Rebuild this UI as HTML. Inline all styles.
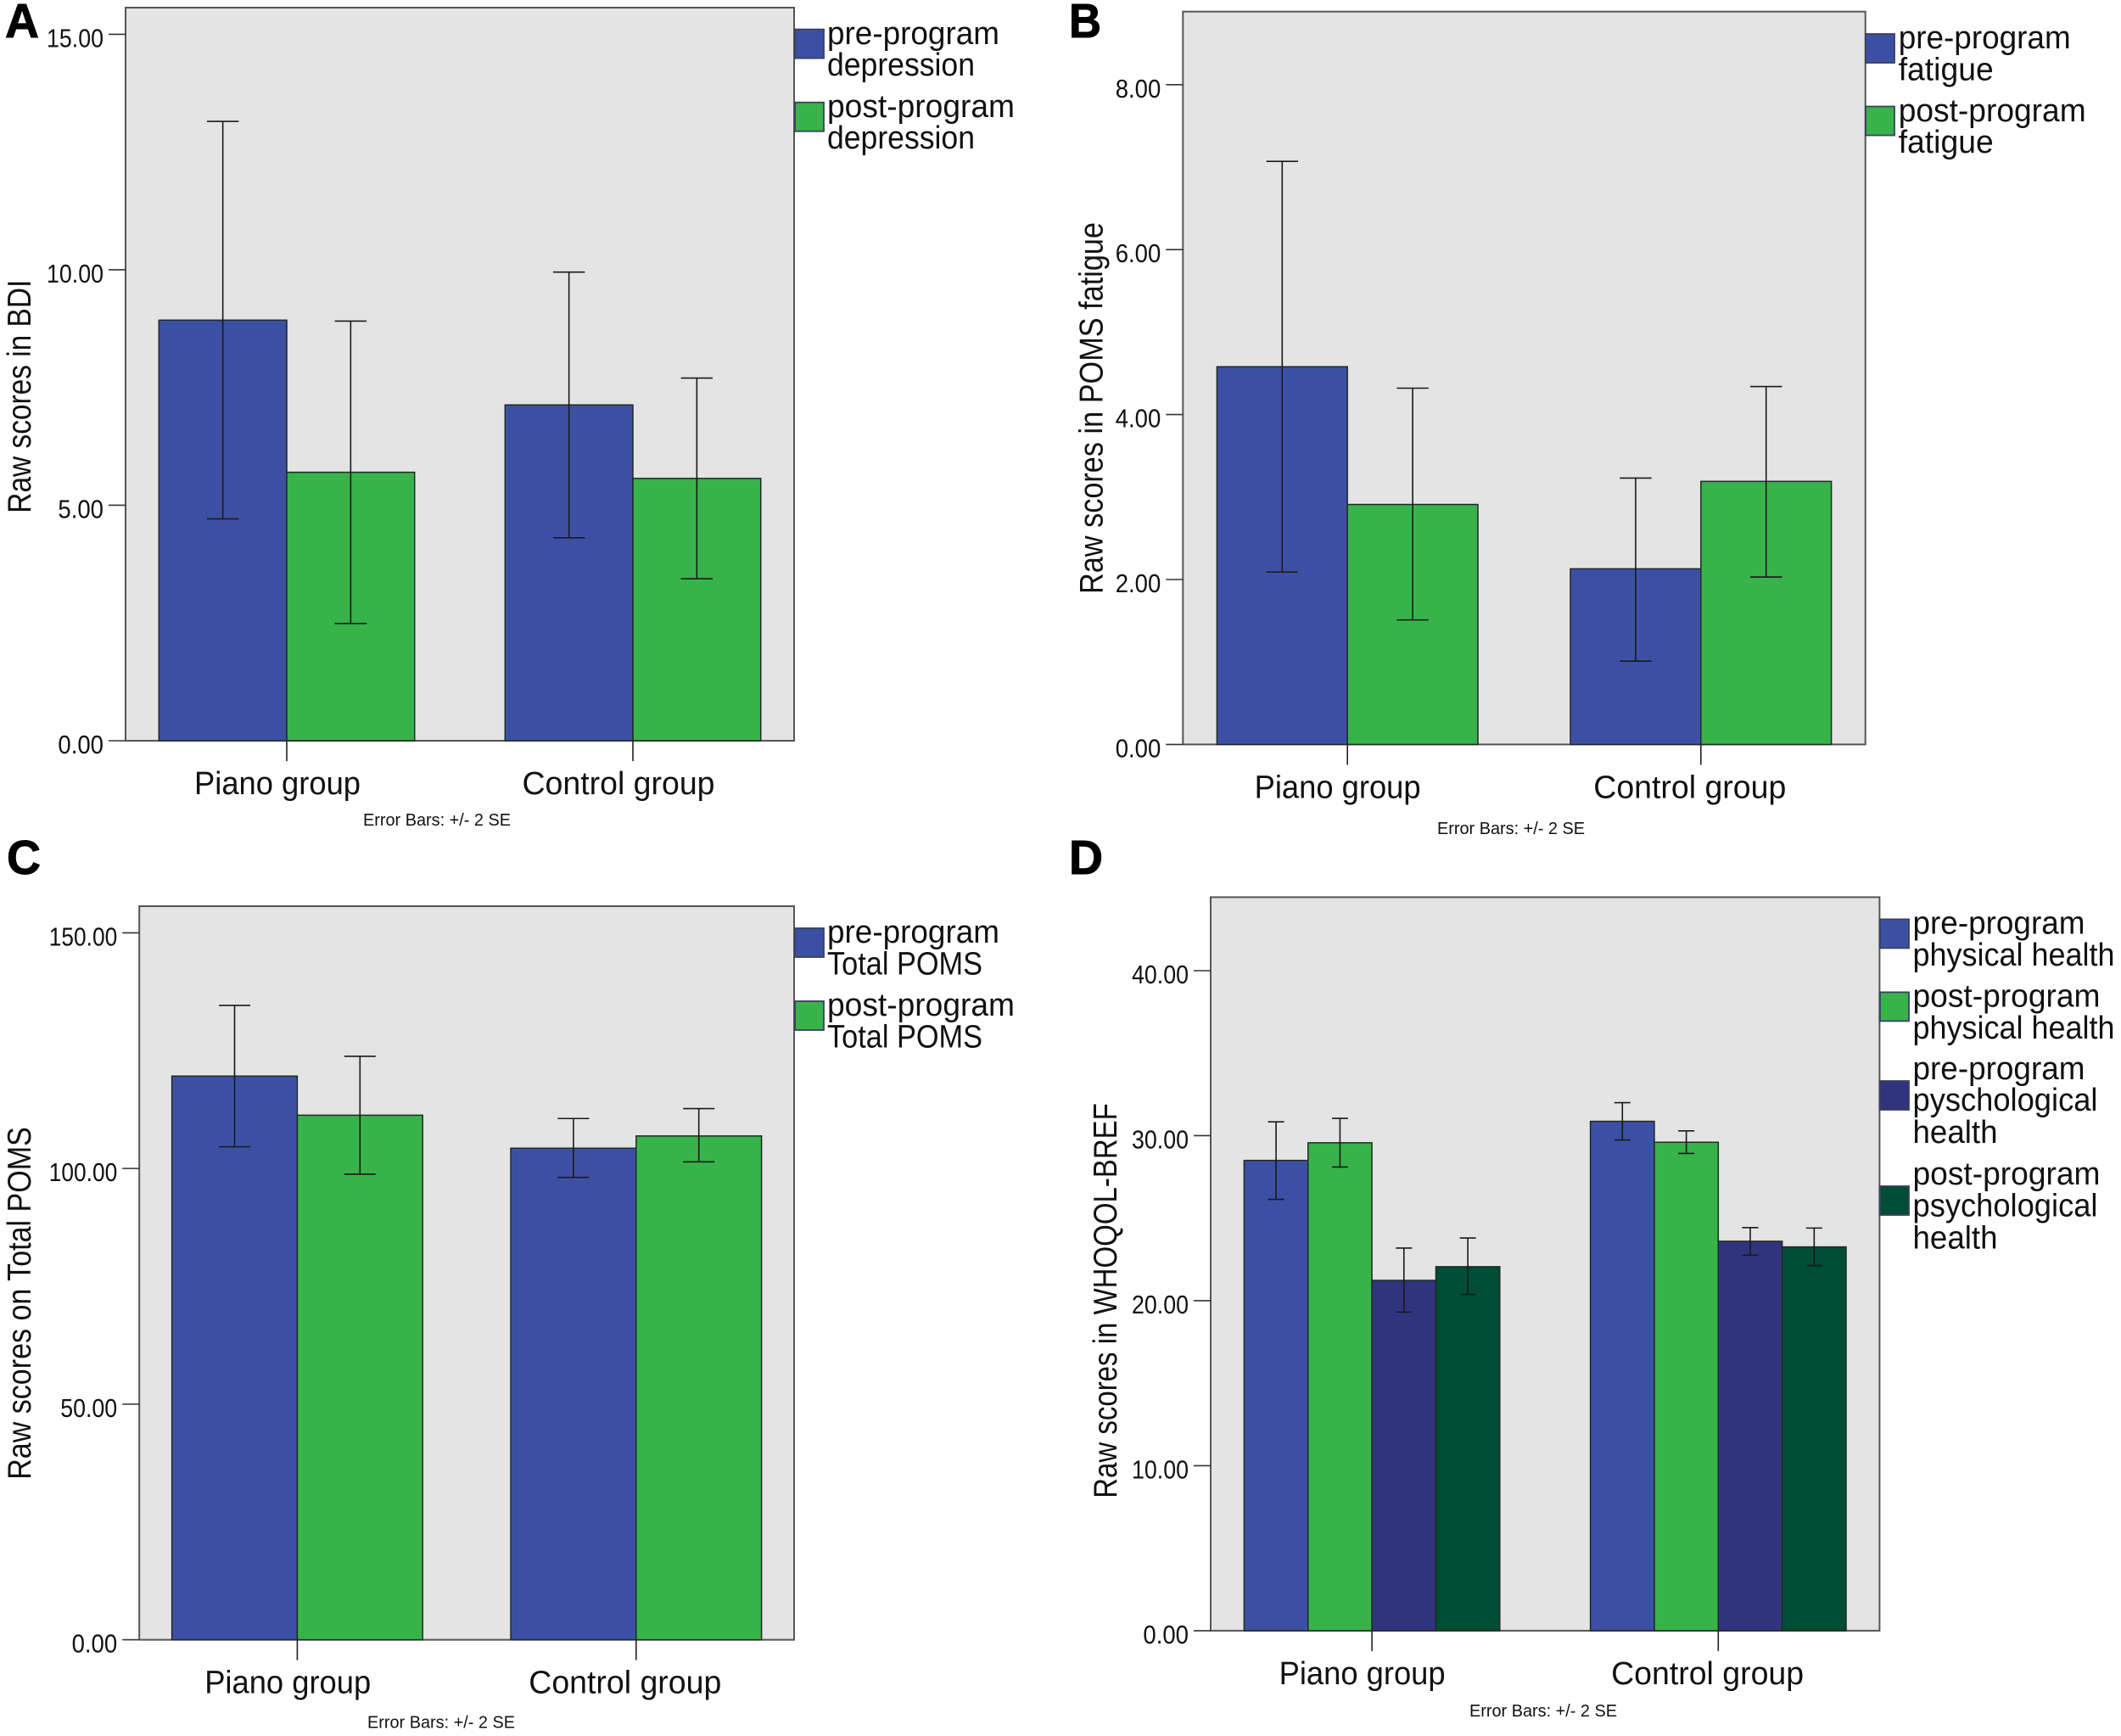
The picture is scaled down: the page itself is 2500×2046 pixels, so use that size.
<!DOCTYPE html>
<html lang="en">
<head>
<meta charset="utf-8">
<title>Raw scores by group, pre- and post-program</title>
<style>
  html, body { margin: 0; padding: 0; background: #ffffff; }
  svg { display: block; }
  text { font-family: "Liberation Sans", sans-serif; fill: #111111; }
  .letter { font-size: 57px; font-weight: bold; fill: #000000; stroke: #000000; stroke-width: 1; }
  .title { font-size: 39px; }
  .leg { font-size: 38px; }
  .note { font-size: 20px; }
  .plot { fill: #e4e4e4; stroke: #555555; stroke-width: 2; }
  .blue { fill: #3c50a3; }
  .green { fill: #37b34a; }
  .navy { fill: #30347f; }
  .forest { fill: #004d36; }
  .swatch { stroke: #3a3f60; stroke-width: 1.8; }
</style>
</head>
<body>
<svg id="figure" xmlns="http://www.w3.org/2000/svg" width="2500" height="2046" viewBox="0 0 2500 2046">
  <rect x="0" y="0" width="2500" height="2046" fill="#ffffff"/>

  <text class="letter" x="6" y="44" textLength="40" lengthAdjust="spacingAndGlyphs">A</text>
  <text class="letter" x="1260" y="44" textLength="38" lengthAdjust="spacingAndGlyphs">B</text>
  <text class="letter" x="8" y="1030" textLength="40" lengthAdjust="spacingAndGlyphs">C</text>
  <text class="letter" x="1260" y="1030" textLength="40" lengthAdjust="spacingAndGlyphs">D</text>

  <rect class="plot" x="148" y="9" width="788" height="864"/>
  <rect class="plot" x="1394.3" y="13.7" width="804.4" height="863.7"/>
  <rect class="plot" x="164.2" y="1068" width="771.8" height="864.6"/>
  <rect class="plot" x="1427" y="1057.4" width="788.4" height="864.5"/>

  <text class="title" transform="translate(36,604.7) rotate(-90)" textLength="275" lengthAdjust="spacingAndGlyphs">Raw scores in BDI</text>
  <text class="title" transform="translate(1299.4,700) rotate(-90)" textLength="438" lengthAdjust="spacingAndGlyphs">Raw scores in POMS fatigue</text>
  <text class="title" transform="translate(36,1743.8) rotate(-90)" textLength="415.6" lengthAdjust="spacingAndGlyphs">Raw scores on Total POMS</text>
  <text class="title" transform="translate(1316,1765.8) rotate(-90)" textLength="465.6" lengthAdjust="spacingAndGlyphs">Raw scores in WHOQOL-BREF</text>

  <text class="note" x="515" y="973" text-anchor="middle" textLength="174" lengthAdjust="spacingAndGlyphs">Error Bars: +/- 2 SE</text>
  <text class="note" x="1781" y="983" text-anchor="middle" textLength="174" lengthAdjust="spacingAndGlyphs">Error Bars: +/- 2 SE</text>
  <text class="note" x="520" y="2036.7" text-anchor="middle" textLength="174" lengthAdjust="spacingAndGlyphs">Error Bars: +/- 2 SE</text>
  <text class="note" x="1819" y="2023" text-anchor="middle" textLength="174" lengthAdjust="spacingAndGlyphs">Error Bars: +/- 2 SE</text>

  <g id="charts"></g>

  <g>
    <rect class="blue swatch" x="937" y="34.6" width="34" height="34"/>
    <text class="leg" x="975" y="52"><tspan x="975" y="52" textLength="203" lengthAdjust="spacingAndGlyphs">pre-program</tspan><tspan x="975" y="89" textLength="174" lengthAdjust="spacingAndGlyphs">depression</tspan></text>
    <rect class="green swatch" x="937" y="120.7" width="34" height="34"/>
    <text class="leg" x="975" y="138"><tspan x="975" y="138" textLength="221" lengthAdjust="spacingAndGlyphs">post-program</tspan><tspan x="975" y="175" textLength="174" lengthAdjust="spacingAndGlyphs">depression</tspan></text>
  </g>

  <g>
    <rect class="blue swatch" x="2199" y="40" width="34" height="34"/>
    <text class="leg" x="2237.7" y="57"><tspan x="2237.7" y="57" textLength="203" lengthAdjust="spacingAndGlyphs">pre-program</tspan><tspan x="2237.7" y="94.6" textLength="112" lengthAdjust="spacingAndGlyphs">fatigue</tspan></text>
    <rect class="green swatch" x="2199" y="125.5" width="34" height="34"/>
    <text class="leg" x="2237.7" y="143"><tspan x="2237.7" y="143" textLength="221" lengthAdjust="spacingAndGlyphs">post-program</tspan><tspan x="2237.7" y="180" textLength="112" lengthAdjust="spacingAndGlyphs">fatigue</tspan></text>
  </g>

  <g>
    <rect class="blue swatch" x="937" y="1094" width="34" height="34"/>
    <text class="leg" x="975" y="1111"><tspan x="975" y="1111" textLength="203" lengthAdjust="spacingAndGlyphs">pre-program</tspan><tspan x="975" y="1148.4" textLength="183" lengthAdjust="spacingAndGlyphs">Total POMS</tspan></text>
    <rect class="green swatch" x="937" y="1180" width="34" height="34"/>
    <text class="leg" x="975" y="1197"><tspan x="975" y="1197" textLength="221" lengthAdjust="spacingAndGlyphs">post-program</tspan><tspan x="975" y="1234.5" textLength="183" lengthAdjust="spacingAndGlyphs">Total POMS</tspan></text>
  </g>

  <g>
    <rect class="blue swatch" x="2216" y="1083.4" width="34" height="34"/>
    <text class="leg" x="2254.5" y="1100.4"><tspan x="2254.5" y="1100.4" textLength="203" lengthAdjust="spacingAndGlyphs">pre-program</tspan><tspan x="2254.5" y="1137.8" textLength="238" lengthAdjust="spacingAndGlyphs">physical health</tspan></text>
    <rect class="green swatch" x="2216" y="1169.4" width="34" height="34"/>
    <text class="leg" x="2254.5" y="1186.5"><tspan x="2254.5" y="1186.5" textLength="221" lengthAdjust="spacingAndGlyphs">post-program</tspan><tspan x="2254.5" y="1223.8" textLength="238" lengthAdjust="spacingAndGlyphs">physical health</tspan></text>
    <rect class="navy swatch" x="2216" y="1274" width="34" height="34"/>
    <text class="leg" x="2254.5" y="1271.8"><tspan x="2254.5" y="1271.8" textLength="203" lengthAdjust="spacingAndGlyphs">pre-program</tspan><tspan x="2254.5" y="1309.2" textLength="218" lengthAdjust="spacingAndGlyphs">pyschological</tspan><tspan x="2254.5" y="1347.2" textLength="100" lengthAdjust="spacingAndGlyphs">health</tspan></text>
    <rect class="forest swatch" x="2216" y="1398" width="34" height="34"/>
    <text class="leg" x="2254.5" y="1396"><tspan x="2254.5" y="1396" textLength="221" lengthAdjust="spacingAndGlyphs">post-program</tspan><tspan x="2254.5" y="1433.3" textLength="218" lengthAdjust="spacingAndGlyphs">psychological</tspan><tspan x="2254.5" y="1471.3" textLength="100" lengthAdjust="spacingAndGlyphs">health</tspan></text>
  </g>
</svg>

<script>
// ---- shared categories ----
const categories = ['Piano group', 'Control group'];

// ---- panel A: BDI ----
const ticksA = [0, 5, 10, 15];
const preDepression = [8.93, 7.13];
const preDepressionLow = [4.71, 4.31];
const preDepressionHigh = [13.15, 9.95];
const postDepression = [5.70, 5.57];
const postDepressionLow = [2.49, 3.44];
const postDepressionHigh = [8.91, 7.70];

// ---- panel B: POMS fatigue ----
const ticksB = [0, 2, 4, 6, 8];
const preFatigue = [4.58, 2.13];
const preFatigueLow = [2.09, 1.01];
const preFatigueHigh = [7.07, 3.23];
const postFatigue = [2.91, 3.19];
const postFatigueLow = [1.51, 2.03];
const postFatigueHigh = [4.32, 4.34];

// ---- panel C: Total POMS ----
const ticksC = [0, 50, 100, 150];
const prePoms = [119.6, 104.3];
const prePomsLow = [104.6, 98.1];
const prePomsHigh = [134.6, 110.6];
const postPoms = [111.3, 106.9];
const postPomsLow = [98.8, 101.4];
const postPomsHigh = [123.8, 112.7];

// ---- panel D: WHOQOL-BREF ----
const ticksD = [0, 10, 20, 30, 40];
const prePhysical = [28.5, 30.87];
const prePhysicalLow = [26.14, 29.74];
const prePhysicalHigh = [30.84, 32.0];
const postPhysical = [29.57, 29.6];
const postPhysicalLow = [28.1, 28.92];
const postPhysicalHigh = [31.05, 30.29];
const prePsychological = [21.23, 23.6];
const prePsychologicalLow = [19.31, 22.75];
const prePsychologicalHigh = [23.19, 24.43];
const postPsychological = [22.06, 23.26];
const postPsychologicalLow = [20.38, 22.13];
const postPsychologicalHigh = [23.8, 24.4];

// ---- drawing ----
const NS = 'http://www.w3.org/2000/svg';
const root = document.getElementById('charts');

function make(tag, attrs, parent) {
  const el = document.createElementNS(NS, tag);
  for (const key in attrs) el.setAttribute(key, attrs[key]);
  parent.appendChild(el);
  return el;
}

function drawPanel(p) {
  const group = make('g', {}, root);
  
  

  const topTick = p.ticks[p.ticks.length - 1];
  const yScale = v => p.bottom - (v / topTick) * (p.bottom - p.topTickY);
  const midX = (p.left + p.right) / 2;
  const catX = i => midX + (i - (categories.length - 1) / 2) * p.spacing;
  const barX = (i, s) => catX(i) + (s - p.series.length / 2) * p.barW;

  // bars
  p.series.forEach((series, s) => {
    categories.forEach((cat, i) => {
      const top = yScale(series.values[i]);
      const bar = make('rect', {
        x: barX(i, s), y: top, width: p.barW, height: p.bottom - top,
        fill: series.color, stroke: '#1f2a25', 'stroke-width': 1.5
      }, group);
      
      
    });
  });

  // error bars
  p.series.forEach((series, s) => {
    categories.forEach((cat, i) => {
      const cx = barX(i, s) + p.barW / 2;
      const hi = yScale(series.high[i]);
      const lo = yScale(series.low[i]);
      const err = make('path', {
        d: 'M' + (cx - p.cap) + ' ' + hi + 'H' + (cx + p.cap) +
           'M' + cx + ' ' + hi + 'V' + lo +
           'M' + (cx - p.cap) + ' ' + lo + 'H' + (cx + p.cap),
        fill: 'none', stroke: '#1a1a1a', 'stroke-width': 1.6
      }, group);
      
      
    });
  });

  // y axis
  p.ticks.forEach(v => {
    const y = yScale(v);
    const tick = make('line', {
      x1: p.left - 20, x2: p.left, y1: y, y2: y, stroke: '#333333', 'stroke-width': 1.6
    }, group);
    
    

    const label = v.toFixed(2);
    const text = make('text', {
      x: p.left - 26, y: y + 15, 'text-anchor': 'end', 'font-size': 31,
      textLength: label.length * 13.4, lengthAdjust: 'spacingAndGlyphs'
    }, group);
    text.textContent = label;
    
    
  });

  // x axis
  categories.forEach((cat, i) => {
    const x = catX(i);
    const tick = make('line', {
      x1: x, x2: x, y1: p.bottom, y2: p.bottom + 24, stroke: '#222222', 'stroke-width': 1.6
    }, group);
    
    

    const text = make('text', {
      x: x + p.labelDx[i], y: p.bottom + 63, 'text-anchor': 'middle', 'font-size': 38,
      textLength: i === 0 ? 196 : 227, lengthAdjust: 'spacingAndGlyphs'
    }, group);
    text.textContent = cat;
    
    
  });
}

drawPanel({
  id: 'a', left: 148, right: 936, bottom: 873, topTickY: 40.4,
  spacing: 408, barW: 150.7, cap: 18.7, labelDx: [-11, -17], ticks: ticksA,
  series: [
    { key: 'pre', color: '#3c50a3', values: preDepression, low: preDepressionLow, high: preDepressionHigh },
    { key: 'post', color: '#37b34a', values: postDepression, low: postDepressionLow, high: postDepressionHigh }
  ]
});

drawPanel({
  id: 'b', left: 1394.3, right: 2198.7, bottom: 877.4, topTickY: 99.8,
  spacing: 416.6, barW: 153.8, cap: 18.7, labelDx: [-11.6, -13], ticks: ticksB,
  series: [
    { key: 'pre', color: '#3c50a3', values: preFatigue, low: preFatigueLow, high: preFatigueHigh },
    { key: 'post', color: '#37b34a', values: postFatigue, low: postFatigueLow, high: postFatigueHigh }
  ]
});

drawPanel({
  id: 'c', left: 164.2, right: 936, bottom: 1932.6, topTickY: 1099.4,
  spacing: 399.4, barW: 147.8, cap: 18.5, labelDx: [-11.2, -13], ticks: ticksC,
  series: [
    { key: 'pre', color: '#3c50a3', values: prePoms, low: prePomsLow, high: prePomsHigh },
    { key: 'post', color: '#37b34a', values: postPoms, low: postPomsLow, high: postPomsHigh }
  ]
});

drawPanel({
  id: 'd', left: 1427, right: 2215.4, bottom: 1921.9, topTickY: 1144,
  spacing: 408.2, barW: 75.35, cap: 9.5, labelDx: [-11.5, -12.7], ticks: ticksD,
  series: [
    { key: 'pre-physical', color: '#3c50a3', values: prePhysical, low: prePhysicalLow, high: prePhysicalHigh },
    { key: 'post-physical', color: '#37b34a', values: postPhysical, low: postPhysicalLow, high: postPhysicalHigh },
    { key: 'pre-psychological', color: '#30347f', values: prePsychological, low: prePsychologicalLow, high: prePsychologicalHigh },
    { key: 'post-psychological', color: '#004d36', values: postPsychological, low: postPsychologicalLow, high: postPsychologicalHigh }
  ]
});
</script>
</body>
</html>
